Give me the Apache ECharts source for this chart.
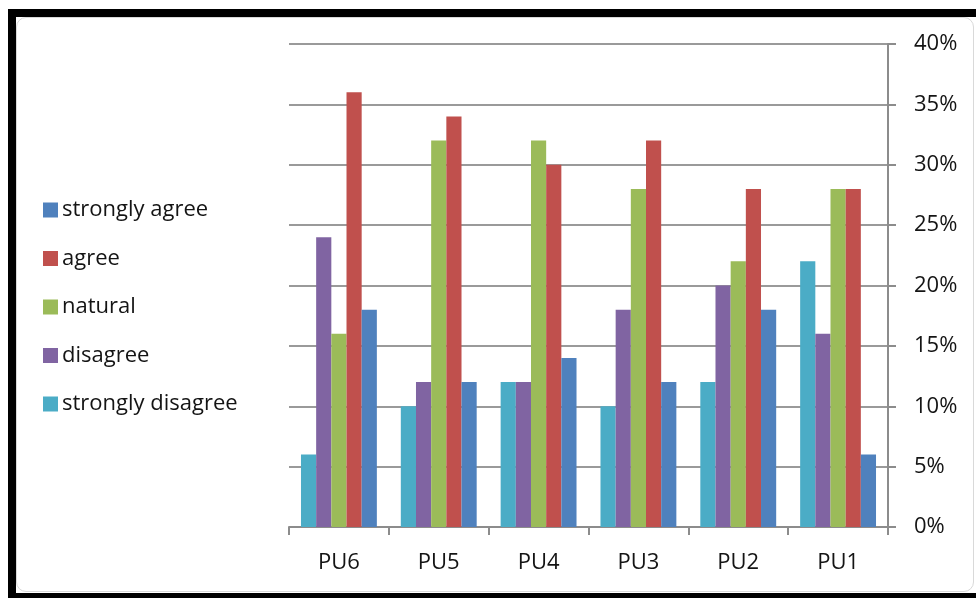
<!DOCTYPE html>
<html>
<head>
<meta charset="utf-8">
<script src="https://cdn.jsdelivr.net/npm/echarts@6/dist/echarts.min.js"></script>
<style>
  html, body { margin: 0; padding: 0; background: #fff; }
  #frame {
    position: absolute; left: 8px; top: 9px; width: 968px; height: 589px;
    box-sizing: border-box;
    border-top: 8px solid #000; border-left: 8px solid #000; border-bottom: 5px solid #000;
  }
  #panel {
    position: absolute; left: 0; top: 0; right: 2px; bottom: 1px;
    border: 1px solid #d9d9d9; border-radius: 10px; background: #fff;
  }
  #chart { position: absolute; left: 0; top: 0; width: 976px; height: 598px; }
</style>
</head>
<body>
<div id="frame"><div id="panel"></div></div>
<div id="chart"></div>
<script>
// Survey responses per item, in percent
const categories = ['PU6', 'PU5', 'PU4', 'PU3', 'PU2', 'PU1'];
const stronglyDisagree = [6, 10, 12, 10, 12, 22];
const disagree         = [24, 12, 12, 18, 20, 16];
const natural          = [16, 32, 32, 28, 22, 28];
const agree            = [36, 34, 30, 32, 28, 28];
const stronglyAgree    = [18, 12, 14, 12, 18, 6];
const yTicks = [0, 5, 10, 15, 20, 25, 30, 35, 40];

const font = '"Open Sans", sans-serif';
const textColor = '#141414';

const seriesDefs = [
  { name: 'strongly disagree', data: stronglyDisagree, color: '#4BACC6' },
  { name: 'disagree',          data: disagree,         color: '#8064A2' },
  { name: 'natural',           data: natural,          color: '#9BBB59' },
  { name: 'agree',             data: agree,            color: '#C0504D' },
  { name: 'strongly agree',    data: stronglyAgree,    color: '#4F81BD' }
];

const chart = echarts.init(document.getElementById('chart'), null, { renderer: 'canvas' });
chart.setOption({
  backgroundColor: 'transparent',
  animation: false,
  textStyle: { fontFamily: font },
  legend: {
    orient: 'vertical',
    left: 43,
    top: 199,
    padding: 0,
    itemWidth: 15,
    itemHeight: 15,
    itemGap: 26.5,
    icon: 'rect',
    data: seriesDefs.map(s => s.name).reverse(),
    textStyle: { fontFamily: font, fontSize: 22, color: textColor, lineHeight: 22, padding: [0, 0, 0, -1] }
  },
  grid: { left: 289, right: 88, top: 44, bottom: 71, containLabel: false },
  xAxis: {
    type: 'category',
    data: categories,
    axisLine: { lineStyle: { color: '#8c8c8c', width: 2 } },
    axisTick: { show: true, length: 8, lineStyle: { color: '#8c8c8c', width: 2 } },
    axisLabel: { fontFamily: font, fontSize: 22, color: textColor, margin: 25 }
  },
  yAxis: {
    type: 'value',
    position: 'right',
    min: 0,
    max: 40,
    interval: 5,
    axisLine: { show: true, lineStyle: { color: '#8c8c8c', width: 2 } },
    axisTick: { show: true, length: 8, lineStyle: { color: '#8c8c8c', width: 2 } },
    splitLine: { show: true, lineStyle: { color: '#9a9a9a', width: 2 } },
    axisLabel: {
      fontFamily: font, fontSize: 22, color: textColor, margin: 26,
      formatter: v => (yTicks.includes(v) ? v + '%' : '')
    }
  },
  series: seriesDefs.map(s => ({
    name: s.name,
    type: 'bar',
    data: s.data,
    barGap: '0%',
    barCategoryGap: '24%',
    itemStyle: { color: s.color }
  }))
});
</script>
</body>
</html>
